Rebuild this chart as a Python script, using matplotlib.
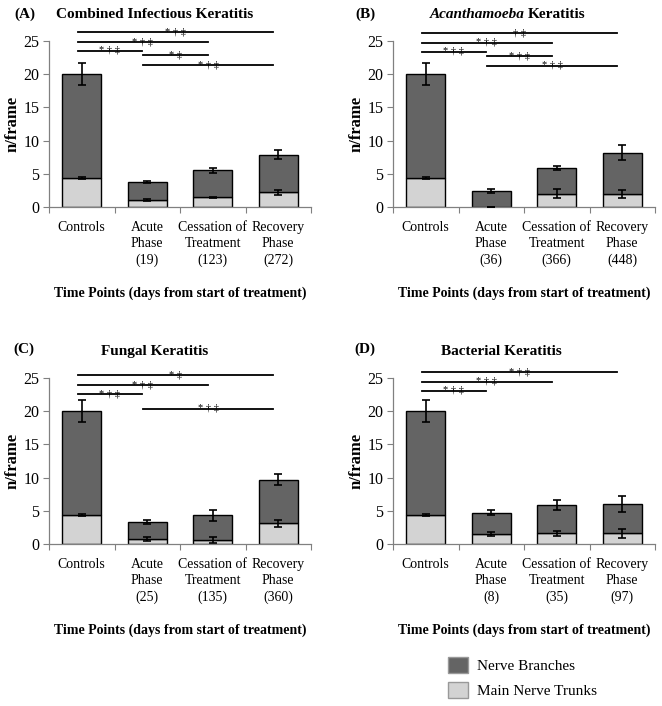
import matplotlib
matplotlib.use("Agg")
import matplotlib.pyplot as plt
from matplotlib.patches import Patch

plt.rcParams['font.family'] = ['Liberation Serif', 'DejaVu Serif']

categories = ["Controls", "Acute\nPhase", "Cessation of\nTreatment", "Recovery\nPhase"]

days_A = ["", "(19)", "(123)", "(272)"]
days_B = ["", "(36)", "(366)", "(448)"]
days_C = ["", "(25)", "(135)", "(360)"]
days_D = ["", "(8)", "(35)", "(97)"]

trunks_A = [4.35, 1.05, 1.45, 2.2]
trunks_err_A = [0.15, 0.15, 0.12, 0.4]
branches_A = [15.65, 2.75, 4.05, 5.7]
total_err_A = [1.7, 0.15, 0.4, 0.7]

trunks_B = [4.35, 0.0, 2.0, 2.0]
trunks_err_B = [0.15, 0.0, 0.65, 0.6]
branches_B = [15.65, 2.4, 3.9, 6.2]
total_err_B = [1.7, 0.35, 0.35, 1.15]

trunks_C = [4.35, 0.8, 0.6, 3.1]
trunks_err_C = [0.15, 0.28, 0.43, 0.5]
branches_C = [15.65, 2.5, 3.7, 6.6]
total_err_C = [1.7, 0.3, 0.8, 0.8]

trunks_D = [4.35, 1.5, 1.6, 1.6]
trunks_err_D = [0.15, 0.35, 0.38, 0.7]
branches_D = [15.65, 3.2, 4.25, 4.45]
total_err_D = [1.7, 0.4, 0.73, 1.2]

sig_A = [(0, 3, 26.35, "* † ‡"), (0, 2, 24.85, "* † ‡"), (0, 1, 23.55, "* † ‡"),
         (1, 2, 22.85, "* ‡"), (1, 3, 21.4, "* † ‡")]
sig_B = [(0, 3, 26.25, "† ‡"), (0, 2, 24.75, "* † ‡"), (0, 1, 23.4, "* † ‡"),
         (1, 2, 22.7, "* † ‡"), (1, 3, 21.3, "* † ‡")]
sig_C = [(0, 3, 25.5, "* ‡"), (0, 2, 23.9, "* † ‡"), (0, 1, 22.55, "* † ‡"),
         (1, 3, 20.4, "* † ‡")]
sig_D = [(0, 3, 25.9, "* † ‡"), (0, 2, 24.45, "* † ‡"), (0, 1, 23.1, "* † ‡")]

DARK = "#646464"
LIGHT = "#d3d3d3"

W, H = 662, 706
fig = plt.figure(figsize=(W / 100, H / 100), dpi=100)


def fx(px):
    return px / W


def fy(py):
    return 1 - py / H


def panel(left_px, zero_px, days, trunks, terr, branches, berr, sigs):
    ax = fig.add_axes([fx(left_px), fy(zero_px), fx(262), 166 / H])
    x = list(range(len(categories)))
    totals = [t + b for t, b in zip(trunks, branches)]
    ax.bar(x, trunks, width=0.6, color=LIGHT, edgecolor="black", linewidth=1.0, zorder=2)
    ax.bar(x, branches, bottom=trunks, width=0.6, color=DARK, edgecolor="black",
           linewidth=1.0, zorder=2)
    ax.errorbar(x, trunks, yerr=terr, fmt="none", ecolor="black", elinewidth=1.2,
                capsize=3, capthick=1.2, zorder=3)
    ax.errorbar(x, totals, yerr=berr, fmt="none", ecolor="black", elinewidth=1.2,
                capsize=3, capthick=1.2, zorder=3)
    ax.set_xlim(-0.5, 3.5)
    ax.set_ylim(0, 25)
    ax.set_yticks([0, 5, 10, 15, 20, 25])
    ax.set_xticks([-0.5, 0.5, 1.5, 2.5, 3.5])
    ax.set_xticklabels([])
    ax.set_xticks(x, minor=True)
    labels = [c + ("\n" + d if d else "") for c, d in zip(categories, days)]
    ax.set_xticklabels(labels, minor=True, fontsize=10, linespacing=1.32)
    ax.tick_params(axis="x", which="major", direction="out", length=4, color="#808080")
    ax.tick_params(axis="x", which="minor", length=0, pad=10)
    ax.tick_params(axis="y", direction="out", length=4, color="#808080", labelsize=11.5, pad=3)
    for s in ("top", "right"):
        ax.spines[s].set_visible(False)
    for s in ("left", "bottom"):
        ax.spines[s].set_color("#808080")
        ax.spines[s].set_linewidth(0.9)
    ax.set_ylabel("n/frame", fontsize=12, fontweight="bold")
    ax.yaxis.set_label_coords(-0.11, 0.5)
    ax.set_xlabel("Time Points (days from start of treatment)", fontsize=10, fontweight="bold")
    ax.xaxis.set_label_coords(0.5, -0.48)
    for i, j, y, lab in sigs:
        x0, x1 = i - 0.06, j - 0.08
        ax.plot([x0, x1], [y, y], color="black", lw=1.3, clip_on=False, zorder=4)
        ax.text((x0 + x1) / 2, y - 0.35, lab, ha="center", va="baseline", fontsize=7.5,
                color="black", clip_on=False, zorder=5)
    return ax


panel(49, 207, days_A, trunks_A, trunks_err_A, branches_A, total_err_A, sig_A)
panel(393, 207, days_B, trunks_B, trunks_err_B, branches_B, total_err_B, sig_B)
panel(49, 544, days_C, trunks_C, trunks_err_C, branches_C, total_err_C, sig_C)
panel(393, 544, days_D, trunks_D, trunks_err_D, branches_D, total_err_D, sig_D)

# panel letters and titles
fig.text(fx(25), fy(14), "(A)", ha="center", va="center", fontsize=11, fontweight="bold")
fig.text(fx(365), fy(14), "(B)", ha="center", va="center", fontsize=11, fontweight="bold")
fig.text(fx(24), fy(349), "(C)", ha="center", va="center", fontsize=11, fontweight="bold")
fig.text(fx(365), fy(349), "(D)", ha="center", va="center", fontsize=11, fontweight="bold")

fig.text(fx(155), fy(15), "Combined Infectious Keratitis", ha="center", va="center",
         fontsize=11, fontweight="bold")
fig.text(fx(525), fy(15), "Acanthamoeba", ha="right", va="center",
         fontsize=11, fontweight="bold", style="italic")
fig.text(fx(528), fy(15), "Keratitis", ha="left", va="center",
         fontsize=11, fontweight="bold")
fig.text(fx(155), fy(352), "Fungal Keratitis", ha="center", va="center",
         fontsize=11, fontweight="bold")
fig.text(fx(501), fy(352), "Bacterial Keratitis", ha="center", va="center",
         fontsize=11, fontweight="bold")

handles = [Patch(facecolor=DARK, edgecolor="#999999", label="Nerve Branches"),
           Patch(facecolor=LIGHT, edgecolor="#999999", label="Main Nerve Trunks")]
fig.legend(handles=handles, loc="upper left", bbox_to_anchor=(fx(434), fy(643)),
           frameon=False, fontsize=11, handlelength=1.3, handleheight=1.25,
           handletextpad=0.6, labelspacing=0.6)

fig.savefig("out.png", dpi=100)
